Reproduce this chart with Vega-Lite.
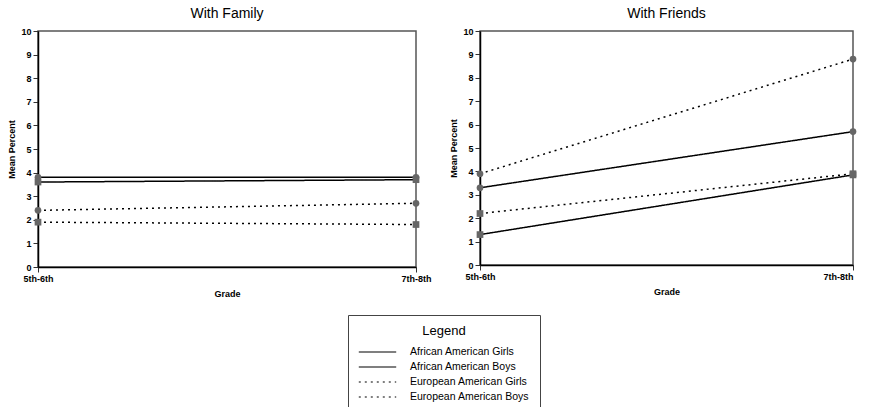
{
  "$schema": "https://vega.github.io/schema/vega-lite/v6.json",
  "background": "white",
  "padding": {"left": 7, "top": 6, "right": 0, "bottom": 0},
  "data": {"values": [
    {"panel": "With Family", "grade": "5th-6th", "group": "African American Girls", "value": 3.8},
    {"panel": "With Family", "grade": "7th-8th", "group": "African American Girls", "value": 3.8},
    {"panel": "With Family", "grade": "5th-6th", "group": "African American Boys", "value": 3.6},
    {"panel": "With Family", "grade": "7th-8th", "group": "African American Boys", "value": 3.7},
    {"panel": "With Family", "grade": "5th-6th", "group": "European American Girls", "value": 2.4},
    {"panel": "With Family", "grade": "7th-8th", "group": "European American Girls", "value": 2.7},
    {"panel": "With Family", "grade": "5th-6th", "group": "European American Boys", "value": 1.9},
    {"panel": "With Family", "grade": "7th-8th", "group": "European American Boys", "value": 1.8},
    {"panel": "With Friends", "grade": "5th-6th", "group": "African American Girls", "value": 3.3},
    {"panel": "With Friends", "grade": "7th-8th", "group": "African American Girls", "value": 5.7},
    {"panel": "With Friends", "grade": "5th-6th", "group": "African American Boys", "value": 1.3},
    {"panel": "With Friends", "grade": "7th-8th", "group": "African American Boys", "value": 3.85},
    {"panel": "With Friends", "grade": "5th-6th", "group": "European American Girls", "value": 3.9},
    {"panel": "With Friends", "grade": "7th-8th", "group": "European American Girls", "value": 8.8},
    {"panel": "With Friends", "grade": "5th-6th", "group": "European American Boys", "value": 2.2},
    {"panel": "With Friends", "grade": "7th-8th", "group": "European American Boys", "value": 3.9}
  ]},
  "config": {
    "font": "Liberation Sans",
    "view": {"stroke": "#555", "strokeWidth": 1.5},
    "title": {"fontSize": 14, "fontWeight": "normal", "color": "black", "offset": 6},
    "axis": {
      "grid": false,
      "domainColor": "black",
      "domainWidth": 1.5,
      "tickColor": "#333",
      "tickSize": 5,
      "labelFontSize": 9,
      "labelFontWeight": "bold",
      "labelColor": "black",
      "titleFontSize": 9,
      "titleFontWeight": "bold",
      "titleColor": "black"
    },
    "legend": {
      "orient": "none",
      "legendX": 310,
      "legendY": 284,
      "strokeColor": "#444",
      "padding": 10,
      "titleAnchor": "middle",
      "titleFontSize": 13,
      "titleFontWeight": "normal",
      "titleColor": "black",
      "titlePadding": 8,
      "labelFontSize": 10.5,
      "labelColor": "black",
      "labelOffset": 13,
      "symbolType": "stroke",
      "symbolSize": 1400,
      "symbolStrokeColor": "black",
      "symbolStrokeWidth": 1.2,
      "clipHeight": 12,
      "rowPadding": 3,
      "labelLimit": 300
    }
  },
  "spacing": 17,
  "hconcat": [
    {
      "title": "With Family",
      "width": 378,
      "height": 236,
      "transform": [{"filter": "datum.panel === 'With Family'"}],
      "encoding": {
        "x": {"field": "grade", "type": "ordinal", "scale": {"type": "point", "padding": 0}, "axis": {"title": "Grade", "labelAngle": 0, "titlePadding": 6}},
        "y": {"field": "value", "type": "quantitative", "scale": {"domain": [0, 10]}, "axis": {"title": "Mean Percent", "values": [0,1,2,3,4,5,6,7,8,9,10], "titlePadding": 4}}
      },
      "layer": [
        {
          "mark": {"type": "line", "color": "black", "strokeWidth": 1.5},
          "encoding": {
            "detail": {"field": "group"},
            "strokeDash": {"field": "group", "type": "nominal",
              "scale": {"domain": ["African American Girls", "African American Boys", "European American Girls", "European American Boys"], "range": [[1,0],[1,0],[2,4],[2,4]]},
              "legend": {"title": "Legend", "symbolType": "stroke"}}
          }
        },
        {
          "transform": [{"filter": "indexof(datum.group, 'Girls') >= 0"}],
          "mark": {"type": "point", "shape": "circle", "filled": true, "color": "#666", "opacity": 1, "size": 45}
        },
        {
          "transform": [{"filter": "indexof(datum.group, 'Boys') >= 0"}],
          "mark": {"type": "point", "shape": "square", "filled": true, "color": "#666", "opacity": 1, "size": 45}
        }
      ]
    },
    {
      "title": "With Friends",
      "width": 373,
      "height": 234,
      "transform": [{"filter": "datum.panel === 'With Friends'"}],
      "encoding": {
        "x": {"field": "grade", "type": "ordinal", "scale": {"type": "point", "padding": 0}, "axis": {"title": "Grade", "labelAngle": 0, "titlePadding": 6,
          "labelAlign": {"expr": "datum.value === '7th-8th' ? 'right' : 'center'"},
          "labelDx": {"expr": "datum.value === '7th-8th' ? 16 : 0"}}},
        "y": {"field": "value", "type": "quantitative", "scale": {"domain": [0, 10]}, "axis": {"title": "Mean Percent", "values": [0,1,2,3,4,5,6,7,8,9,10], "titlePadding": 4}}
      },
      "layer": [
        {
          "mark": {"type": "line", "color": "black", "strokeWidth": 1.5},
          "encoding": {
            "detail": {"field": "group"},
            "strokeDash": {"field": "group", "type": "nominal",
              "scale": {"domain": ["African American Girls", "African American Boys", "European American Girls", "European American Boys"], "range": [[1,0],[1,0],[2,4],[2,4]]},
              "legend": {"title": "Legend", "symbolType": "stroke"}}
          }
        },
        {
          "transform": [{"filter": "indexof(datum.group, 'Girls') >= 0"}],
          "mark": {"type": "point", "shape": "circle", "filled": true, "color": "#666", "opacity": 1, "size": 45}
        },
        {
          "transform": [{"filter": "indexof(datum.group, 'Boys') >= 0"}],
          "mark": {"type": "point", "shape": "square", "filled": true, "color": "#666", "opacity": 1, "size": 45}
        }
      ]
    }
  ]
}
